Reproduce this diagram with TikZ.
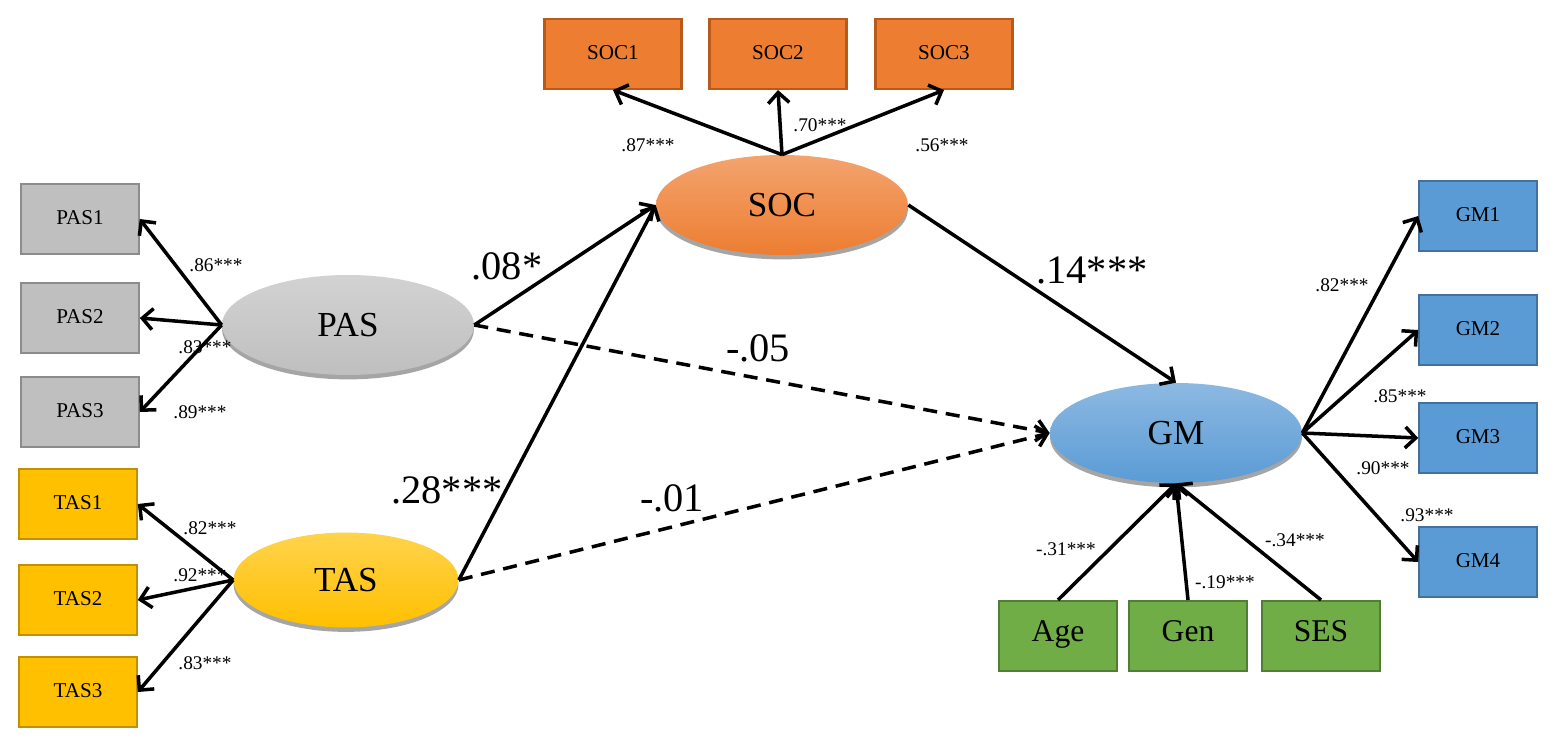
\documentclass[tikz,border=0pt]{standalone}
\usepackage{fontspec}
\setmainfont{Liberation Serif}
\usetikzlibrary{arrows.meta,shapes.geometric,shadows}

\definecolor{grayf}{HTML}{BFBFBF}\definecolor{grayd}{HTML}{8C8C8C}
\definecolor{orgf}{HTML}{ED7D31}\definecolor{orgd}{HTML}{B85A1A}
\definecolor{yelf}{HTML}{FFC000}\definecolor{yeld}{HTML}{BF9000}
\definecolor{bluf}{HTML}{5B9BD5}\definecolor{blud}{HTML}{41719C}
\definecolor{grnf}{HTML}{70AD47}\definecolor{grnd}{HTML}{507E32}

\tikzset{
  box/.style={draw=#1d,fill=#1f,line width=1.2pt,minimum width=2.35cm,minimum height=1.4cm,
    text height=1.5ex,text depth=.25ex,font=\fontsize{12}{12}\selectfont},
  lat/.style={ellipse,draw=none,top color=#1f!70!white,bottom color=#1f,minimum width=5.04cm,minimum height=2cm,
    drop shadow={fill=black!70,shadow xshift=0pt,shadow yshift=-2.5pt},font=\fontsize{20}{20}\selectfont},
  arr/.style={line width=2pt,-{Straight Barb[length=6pt,width=12pt,line width=2pt]}},
  dsh/.style={arr,dash pattern=on 8pt off 5pt},
  sm/.style={font=\fontsize{11}{11}\selectfont},
  big/.style={font=\fontsize{23}{23}\selectfont}
}

\begin{document}
\begin{tikzpicture}[x=0.02cm,y=-0.02cm]
\useasboundingbox (0,0) rectangle (1559,747);
% indicators
\node[box=org,minimum width=2.74cm] (SOC1) at (613,54) {SOC1};
\node[box=org,minimum width=2.74cm] (SOC2) at (778,54) {SOC2};
\node[box=org,minimum width=2.74cm] (SOC3) at (944,54) {SOC3};
\node[box=gray] (PAS1) at (80,219) {PAS1};
\node[box=gray] (PAS2) at (80,318) {PAS2};
\node[box=gray] (PAS3) at (80,412) {PAS3};
\node[box=yel] (TAS1) at (78,504) {TAS1};
\node[box=yel] (TAS2) at (78,600) {TAS2};
\node[box=yel] (TAS3) at (78,692) {TAS3};
\node[box=blu] (GM1) at (1478,216) {GM1};
\node[box=blu] (GM2) at (1478,330) {GM2};
\node[box=blu] (GM3) at (1478,438) {GM3};
\node[box=blu] (GM4) at (1478,562) {GM4};
\node[box=grn,font=\fontsize{18}{18}\selectfont] (Age) at (1058,636) {Age};
\node[box=grn,font=\fontsize{18}{18}\selectfont] (Gen) at (1188,636) {Gen};
\node[box=grn,font=\fontsize{18}{18}\selectfont] (SES) at (1321,636) {SES};
% latent variables
\node[lat=org] (SOC) at (782,205) {SOC};
\node[lat=gray] (PAS) at (348,325) {PAS};
\node[lat=yel,minimum width=4.5cm,minimum height=1.9cm] (TAS) at (346,580) {TAS};
\node[lat=blu] (GM) at (1176,433) {GM};
% loadings
\draw[arr] (SOC.north) -- (SOC1.south);
\draw[arr] (SOC.north) -- (SOC2.south);
\draw[arr] (SOC.north) -- (SOC3.south);
\draw[arr] (PAS.west) -- (PAS1.east);
\draw[arr] (PAS.west) -- (PAS2.east);
\draw[arr] (PAS.west) -- (PAS3.east);
\draw[arr] (TAS.west) -- (TAS1.east);
\draw[arr] (TAS.west) -- (TAS2.east);
\draw[arr] (TAS.west) -- (TAS3.east);
\draw[arr] (GM.east) -- (GM1.west);
\draw[arr] (GM.east) -- (GM2.west);
\draw[arr] (GM.east) -- (GM3.west);
\draw[arr] (GM.east) -- (GM4.west);
\draw[arr] (Age.north) -- (GM.south);
\draw[arr] (Gen.north) -- (GM.south);
\draw[arr] (SES.north) -- (GM.south);
% paths
\draw[arr] (PAS.east) -- (SOC.west);
\draw[arr] (TAS.east) -- (SOC.west);
\draw[arr] (SOC.east) -- (GM.north);
\draw[dsh] (PAS.east) -- (GM.west);
\draw[dsh] (TAS.east) -- (GM.west);
% labels
\node[big] (l1) at (507,266) {.08*};
\node[big] (l2) at (447,490) {.28***};
\node[big] (l3) at (1092,270) {.14***};
\node[big] (l4) at (758,348) {-.05};
\node[big] (l5) at (672,498) {-.01};
\node[sm] (s1) at (648,145) {.87***};
\node[sm] (s2) at (820,125) {.70***};
\node[sm] (s3) at (942,145) {.56***};
\node[sm] (s4) at (216,265) {.86***};
\node[sm] (s5) at (205,347) {.83***};
\node[sm] (s6) at (200,412) {.89***};
\node[sm] (s7) at (210,528) {.82***};
\node[sm] (s8) at (200,575) {.92***};
\node[sm] (s9) at (205,663) {.83***};
\node[sm] (s10) at (1342,285) {.82***};
\node[sm] (s11) at (1400,396) {.85***};
\node[sm] (s12) at (1383,468) {.90***};
\node[sm] (s13) at (1427,515) {.93***};
\node[sm] (s14) at (1066,549) {-.31***};
\node[sm] (s15) at (1225,582) {-.19***};
\node[sm] (s16) at (1295,540) {-.34***};
\end{tikzpicture}
\end{document}
